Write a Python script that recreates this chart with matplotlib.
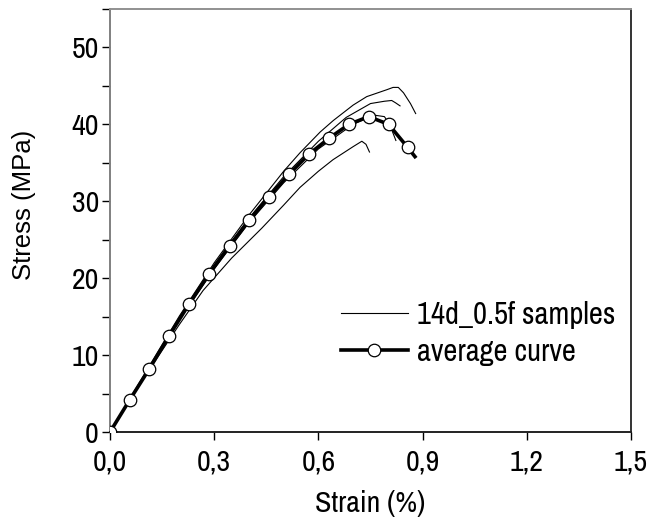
"""
Stress-strain curves for the 14d_0.5f specimens: four individual samples
(thin lines) and the average curve (thick line with open circle markers).
"""

import matplotlib
matplotlib.use("Agg")
import matplotlib.pyplot as plt
from matplotlib.ticker import MultipleLocator, FuncFormatter

# ----------------------------------------------------------------------
# Data
# ----------------------------------------------------------------------
avg_strain = [0.0, 0.057, 0.113, 0.170, 0.227, 0.286, 0.344, 0.400, 0.458,
              0.515, 0.572, 0.631, 0.688, 0.745, 0.802, 0.857, 0.878]
avg_stress = [0.0, 4.2, 8.2, 12.5, 16.6, 20.6, 24.2, 27.5, 30.6,
              33.5, 36.1, 38.2, 40.0, 41.0, 40.0, 37.0, 35.8]
avg_marker_idx = list(range(16))   # last point is just the line tail

s1_strain = [0.0, 0.1, 0.2, 0.3, 0.4, 0.5, 0.547, 0.605, 0.643, 0.70,
             0.739, 0.797, 0.815, 0.83, 0.845, 0.865, 0.88]
s1_stress = [0.0, 7.6, 15.1, 22.0, 28.2, 33.9, 36.3, 39.0, 40.5, 42.5,
             43.6, 44.5, 44.8, 44.8, 44.1, 42.7, 41.4]

s2_strain = [0.0, 0.1, 0.2, 0.3, 0.4, 0.5, 0.6, 0.68, 0.75, 0.79,
             0.811, 0.822, 0.835]
s2_stress = [0.0, 7.4, 14.8, 21.7, 27.8, 33.2, 37.8, 40.9, 42.7, 43.0,
             43.1, 42.8, 42.4]

s3_strain = [0.0, 0.1, 0.2, 0.268, 0.35, 0.437, 0.5, 0.547, 0.6, 0.642,
             0.7, 0.725, 0.737, 0.747]
s3_stress = [0.0, 7.2, 14.0, 18.4, 22.6, 26.5, 29.5, 31.8, 33.9, 35.4,
             37.1, 37.8, 37.4, 36.4]

s4_strain = [0.0, 0.1, 0.2, 0.3, 0.4, 0.5, 0.6, 0.7, 0.76, 0.79,
             0.805, 0.823]
s4_stress = [0.0, 7.3, 14.6, 21.2, 27.2, 32.4, 36.8, 40.0, 41.2, 41.0,
             40.0, 37.9]

samples = [
    (s1_strain, s1_stress),
    (s2_strain, s2_stress),
    (s3_strain, s3_stress),
    (s4_strain, s4_stress),
]

sample_label = "14d_0.5f samples"
avg_label = "average curve"

# ----------------------------------------------------------------------
# Style
# ----------------------------------------------------------------------
NARROW = ["Archivo Narrow", "Liberation Sans", "DejaVu Sans"]
REGULAR = ["Liberation Sans", "DejaVu Sans"]
TICK_SIZE = 21.5
OUTPATH = "out.png"


def comma_fmt(decimals):
    return FuncFormatter(lambda v, _: f"{v:.{decimals}f}".replace(".", ","))


if __name__ == "__main__":
    fig = plt.figure(figsize=(6.53, 5.26), dpi=100)
    ax = fig.add_axes([0.1685, 0.1787, 0.7978, 0.8043])

    for i, (x, y) in enumerate(samples):
        ax.plot(x, y, color="black", lw=0.8,
                label=sample_label if i == 0 else None)

    ax.plot(
        avg_strain, avg_stress,
        color="black", lw=2.6,
        marker="o", markersize=9,
        markerfacecolor="white", markeredgecolor="black",
        markeredgewidth=0.9,
        markevery=avg_marker_idx,
        label=avg_label,
        zorder=5,
    )

    ax.set_xlim(0, 1.5)
    ax.set_ylim(0, 55)
    ax.xaxis.set_major_locator(MultipleLocator(0.3))
    ax.yaxis.set_major_locator(MultipleLocator(10))
    ax.yaxis.set_minor_locator(MultipleLocator(5))
    ax.xaxis.set_major_formatter(comma_fmt(1))
    ax.yaxis.set_major_formatter(comma_fmt(0))

    ax.tick_params(axis="both", which="both", direction="out",
                   length=6, width=1, color="black",
                   labelsize=TICK_SIZE)
    ax.tick_params(axis="x", pad=6)
    ax.tick_params(axis="y", pad=2)
    for lab in ax.get_xticklabels() + ax.get_yticklabels():
        lab.set_family(NARROW)

    ax.spines["left"].set_color("#808080")
    ax.spines["top"].set_color("#909090")
    ax.spines["right"].set_color("#333333")
    ax.spines["bottom"].set_color("#222222")
    for sp in ax.spines.values():
        sp.set_linewidth(1.4)

    ax.set_xlabel("Strain (%)", family=NARROW, fontsize=21.5, labelpad=10)
    ax.set_ylabel("Stress (MPa)", family=REGULAR, fontsize=18.5)
    ax.yaxis.set_label_coords(-0.143, 0.538)

    ax.legend(
        loc="center left",
        bbox_to_anchor=(0.443, 0.233),
        frameon=False,
        prop={"family": NARROW, "size": 22},
        handlelength=2.2,
        handletextpad=0.3,
        labelspacing=0.3,
        borderpad=0,
        borderaxespad=0,
    )

    fig.savefig(OUTPATH, dpi=100)
